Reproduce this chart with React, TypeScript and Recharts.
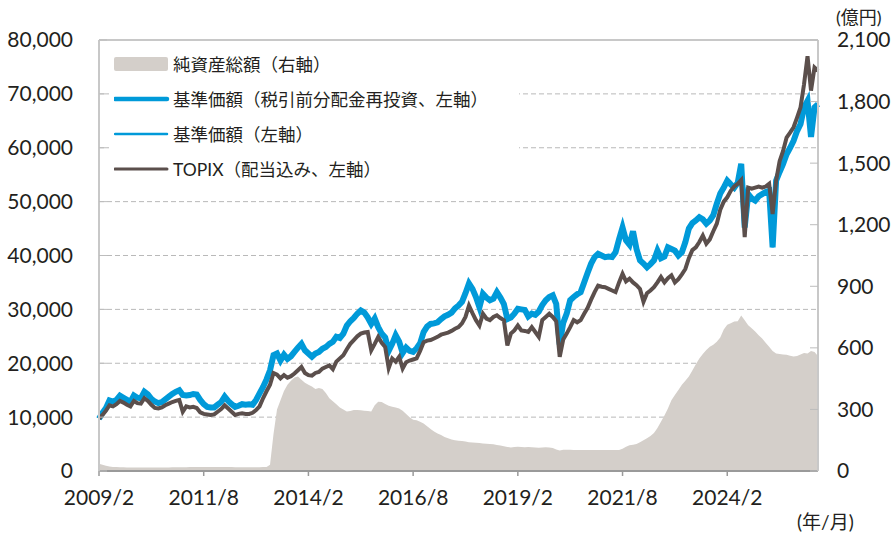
import { ComposedChart, Area, Line, XAxis, YAxis, CartesianGrid, Legend, ReferenceLine } from 'recharts';

const FONT = "Lato, 'Noto Sans CJK JP', sans-serif";
const BLUE = '#009ad9';
const BROWN = '#5b4f4c';
const SAND = '#d4cfca';
const INK = '#231f20';

// month index 0 = 2009/2
const xTicks = [0, 30, 60, 90, 120, 150, 180];
const xTickLabels = ['2009/2', '2011/8', '2014/2', '2016/8', '2019/2', '2021/8', '2024/2'];
const leftTicks = [0, 10000, 20000, 30000, 40000, 50000, 60000, 70000, 80000];
const rightTicks = [0, 300, 600, 900, 1200, 1500, 1800, 2100];

// 純資産総額（億円）
const netAssets = [
  35, 30, 25, 22, 20, 19, 18, 18, 17, 17,
  17, 17, 17, 17, 17, 17, 17, 17, 17, 17,
  17, 18, 18, 18, 18, 18, 19, 19, 19, 20,
  20, 20, 20, 20, 20, 20, 19, 19, 19, 18,
  18, 18, 18, 18, 18, 18, 18, 19, 20, 30,
  180, 300, 345, 390, 420, 440, 455, 460, 445, 430,
  420, 412, 400, 405, 400, 380, 355, 340, 325, 310,
  300, 290, 292, 297, 297, 296, 294, 292, 290, 320,
  338, 336, 326, 318, 313, 310, 305, 293, 278, 262,
  250, 247, 240, 232, 218, 205, 192, 183, 175, 166,
  160, 154, 150, 148, 146, 144, 140, 139, 138, 136,
  134, 133, 131, 130, 127, 124, 120, 117, 115, 117,
  118, 117, 116, 117, 116, 114, 113, 115, 116, 115,
  112, 105, 100, 103, 104, 103, 102, 102, 102, 102,
  102, 102, 102, 102, 102, 102, 102, 102, 102, 102,
  108, 118, 125, 128, 132, 140, 150, 160, 170, 185,
  210, 240, 270, 305, 345, 370, 395, 420, 440, 460,
  490, 520, 548, 570, 590, 605, 615, 630, 650, 690,
  712, 720, 728, 730, 758, 735, 710, 695, 680, 662,
  645, 625, 605, 585, 572, 570, 568, 566, 562, 558,
  560, 568, 575, 572, 585, 580, 560,
];

// 基準価額（税引前分配金再投資）
const navReinvested = [
  9700, 10800, 11700, 13100, 12900, 13200, 14000, 13600, 13200, 12800,
  14000, 13600, 13500, 14700, 14200, 13400, 12900, 12600, 12800, 13300,
  13800, 14300, 14700, 15000, 14100, 14000, 14100, 14300, 14200, 13200,
  12400, 11900, 11800, 11800, 12300, 12800, 13800, 13000, 12400, 11900,
  12100, 12400, 12300, 12400, 12300, 13200, 14400, 15600, 17000, 18700,
  21500, 21800, 20500, 21600, 20800, 21300, 22100, 22900, 23600, 22400,
  21800, 21200, 21800, 22100, 22700, 23000, 23600, 24000, 24900, 24700,
  25500, 27000, 27800, 28400, 29200, 29800, 29400, 28500, 27300, 28300,
  26700, 25500, 24800, 22300, 23600, 25200, 24000, 21900, 22900, 22300,
  22100, 22800, 23700, 25800, 26800, 27300, 27400, 27600, 28200, 28700,
  29000, 29400, 30200, 30700, 31400, 33000, 34800, 33800, 32300, 30400,
  32900, 32200, 31700, 32000, 33200, 32200, 31000, 28200, 28500, 29200,
  30100, 30000, 29900, 28700, 29200, 29000, 29600, 30800, 31700, 32300,
  32600, 31000, 23500, 27500, 29200, 31700, 32300, 32800, 33200, 35000,
  36800, 38500, 39700, 40300, 40000, 39700, 39800, 39700, 40600, 43000,
  45200, 42800, 42000, 44500, 41200, 39100, 38500, 37800, 38400, 39100,
  40900, 39500, 39800, 41500, 41200, 40900, 40000, 40600, 42500, 45000,
  46000, 46500, 47100, 46700, 45900, 46500, 47500, 49600, 51500, 52600,
  53900, 53200, 52600, 53500, 57000, 45200, 51400, 50600, 50200, 51000,
  51400, 51800, 52000, 41500, 53900, 55500, 57000, 58800, 60000, 61300,
  63100, 64400, 67500, 68700, 62000, 67500, 68100,
];

// 基準価額（分配実績なしのため再投資ベースと同値）
const nav = navReinvested;

// TOPIX（配当込み）
const topix = [
  9700, 10400, 11200, 12200, 12000, 12400, 13000, 12700, 12300, 12000,
  13000, 12600, 12500, 13500, 13000, 12300, 11700, 11600, 11800, 12200,
  12500, 12800, 13000, 13200, 11000, 12000, 11800, 11900, 11700, 10900,
  10600, 10500, 10400, 10500, 11000, 11500, 12200, 11600, 11000, 10400,
  10600, 10700, 10600, 10600, 10800, 11300, 12000, 13500, 14800, 16000,
  18200, 17900, 17200, 17800, 17300, 17600, 18100, 18700, 19300, 18200,
  17800, 17700, 18200, 18400, 19000, 19300, 19600, 18900, 20300, 20900,
  21500, 22600, 23600, 24300, 25000, 25500, 25700, 25800, 22400, 23600,
  24900, 23800, 23000, 19100, 20900, 20300, 21200, 19000, 20200, 20500,
  20700, 20900, 22300, 23900, 24200, 24300, 24600, 24900, 25300, 25500,
  25700, 26000, 26400, 26700, 27400, 28600, 30700, 29300, 28000, 27000,
  29200, 28300, 28000, 28600, 28900, 28400, 28000, 23300, 25500, 26100,
  27000, 26100, 26000, 25800, 26700, 25800, 24900, 28000, 28600, 29200,
  28600, 27800, 21200, 24400, 25500, 26700, 28000, 27600, 28000, 29200,
  30300, 31800, 33200, 34400, 34200, 34100, 33800, 33500, 33200, 35000,
  36600, 35200, 35700, 35000, 34500, 33800, 31400, 33000, 33500, 34100,
  35000, 36000, 35000, 35800, 36300, 35000, 35600, 36500, 37500, 39500,
  41000, 41500, 42500, 43700, 42200, 43000, 44500, 45900, 48500, 50000,
  50800, 52000, 52800, 53300, 54000, 43400, 52600, 52400, 52600, 52800,
  52600, 52800, 53300, 47700, 53900, 57500, 59400, 61900, 62800, 63800,
  65600, 67500, 71800, 77000, 70600, 74900, 74300,
];

const data = netAssets.map((v, i) => ({
  m: i,
  netAssets: v,
  navReinvested: navReinvested[i],
  nav: nav[i],
  topix: topix[i],
}));

const legendItems = [
  { label: '純資産総額（右軸）', kind: 'area', color: SAND, width: 0 },
  { label: '基準価額（税引前分配金再投資、左軸）', kind: 'line', color: BLUE, width: 4.5 },
  { label: '基準価額（左軸）', kind: 'line', color: BLUE, width: 2.5 },
  { label: 'TOPIX（配当込み、左軸）', kind: 'line', color: BROWN, width: 3 },
];

function LegendBox() {
  return (
    <div style={{ background: '#fff', width: 410, height: 146, paddingTop: 4, boxSizing: 'border-box', fontFamily: FONT }}>
      {legendItems.map(item => (
        <div key={item.label} style={{ display: 'flex', alignItems: 'center', height: 35 }}>
          <svg width={60} height={16} style={{ marginLeft: 5, flex: 'none' }}>
            {item.kind === 'area' ? (
              <rect x={0} y={1} width={54} height={14} rx={2} fill={item.color} />
            ) : (
              <line x1={1} y1={8} x2={53} y2={8} stroke={item.color} strokeWidth={item.width} strokeLinecap="round" />
            )}
          </svg>
          <span style={{ fontSize: 17.5, color: INK, whiteSpace: 'nowrap', marginLeft: -1 }}>{item.label}</span>
        </div>
      ))}
    </div>
  );
}

const tickStyle = { fontSize: 21, fill: INK, fontFamily: FONT };

export default function App() {
  return (
    <div style={{ position: 'absolute', left: 0, top: 0, width: 894, height: 537, background: '#fff', fontFamily: FONT }}>
      <ComposedChart width={894} height={537} data={data} margin={{ top: 40, right: 0, bottom: 26, left: 0 }}>
        <CartesianGrid yAxisId="left" vertical={false} stroke="#b9b9b9" strokeDasharray="5 3" />
        <XAxis
          dataKey="m"
          type="number"
          domain={[0, 206]}
          ticks={xTicks}
          interval={0}
          tickFormatter={v => xTickLabels[xTicks.indexOf(v)]}
          height={40}
          tickSize={5}
          tickMargin={14}
          axisLine={{ stroke: '#9a9a9a', strokeWidth: 2 }}
          tickLine={{ stroke: '#9a9a9a', strokeWidth: 1.5 }}
          tick={tickStyle}
        />
        <YAxis
          yAxisId="left"
          orientation="left"
          width={99}
          domain={[0, 80000]}
          ticks={leftTicks}
          interval={0}
          tickFormatter={v => v.toLocaleString('en-US')}
          tickSize={-8}
          tickMargin={34}
          axisLine={{ stroke: '#c8c8c8', strokeWidth: 2 }}
          tickLine={{ stroke: '#bdbdbd' }}
          tick={tickStyle}
        />
        <YAxis
          yAxisId="right"
          orientation="right"
          width={76}
          domain={[0, 2100]}
          ticks={rightTicks}
          interval={0}
          tickFormatter={v => v.toLocaleString('en-US')}
          tickSize={-8}
          tickMargin={27}
          axisLine={{ stroke: '#c8c8c8', strokeWidth: 2 }}
          tickLine={{ stroke: '#bdbdbd' }}
          tick={tickStyle}
        />
        <ReferenceLine yAxisId="left" y={80000} stroke="#c8c8c8" strokeWidth={2} />

        <Area
          yAxisId="right"
          dataKey="netAssets"
          type="linear"
          fill={SAND}
          fillOpacity={1}
          stroke="none"
          isAnimationActive={false}
        />
        <Line yAxisId="left" dataKey="navReinvested" type="linear" stroke={BLUE} strokeWidth={6} dot={false} activeDot={false} isAnimationActive={false} />
        <Line yAxisId="left" dataKey="nav" type="linear" stroke={BLUE} strokeWidth={2.5} dot={false} activeDot={false} isAnimationActive={false} />
        <Line yAxisId="left" dataKey="topix" type="linear" stroke={BROWN} strokeWidth={4} dot={false} activeDot={false} isAnimationActive={false} />

        <Legend
          layout="vertical"
          align="center"
          verticalAlign="middle"
          content={() => <LegendBox />}
          wrapperStyle={{ left: 109, top: 42, width: 410, height: 146 }}
        />
      </ComposedChart>

      <div style={{ position: 'absolute', left: 836, top: 5, fontSize: 18, lineHeight: '24px', color: INK, whiteSpace: 'nowrap' }}>(億円)</div>
      <div style={{ position: 'absolute', left: 797, top: 509, fontSize: 19, lineHeight: '26px', color: INK, whiteSpace: 'nowrap' }}>(年/月)</div>
    </div>
  );
}
